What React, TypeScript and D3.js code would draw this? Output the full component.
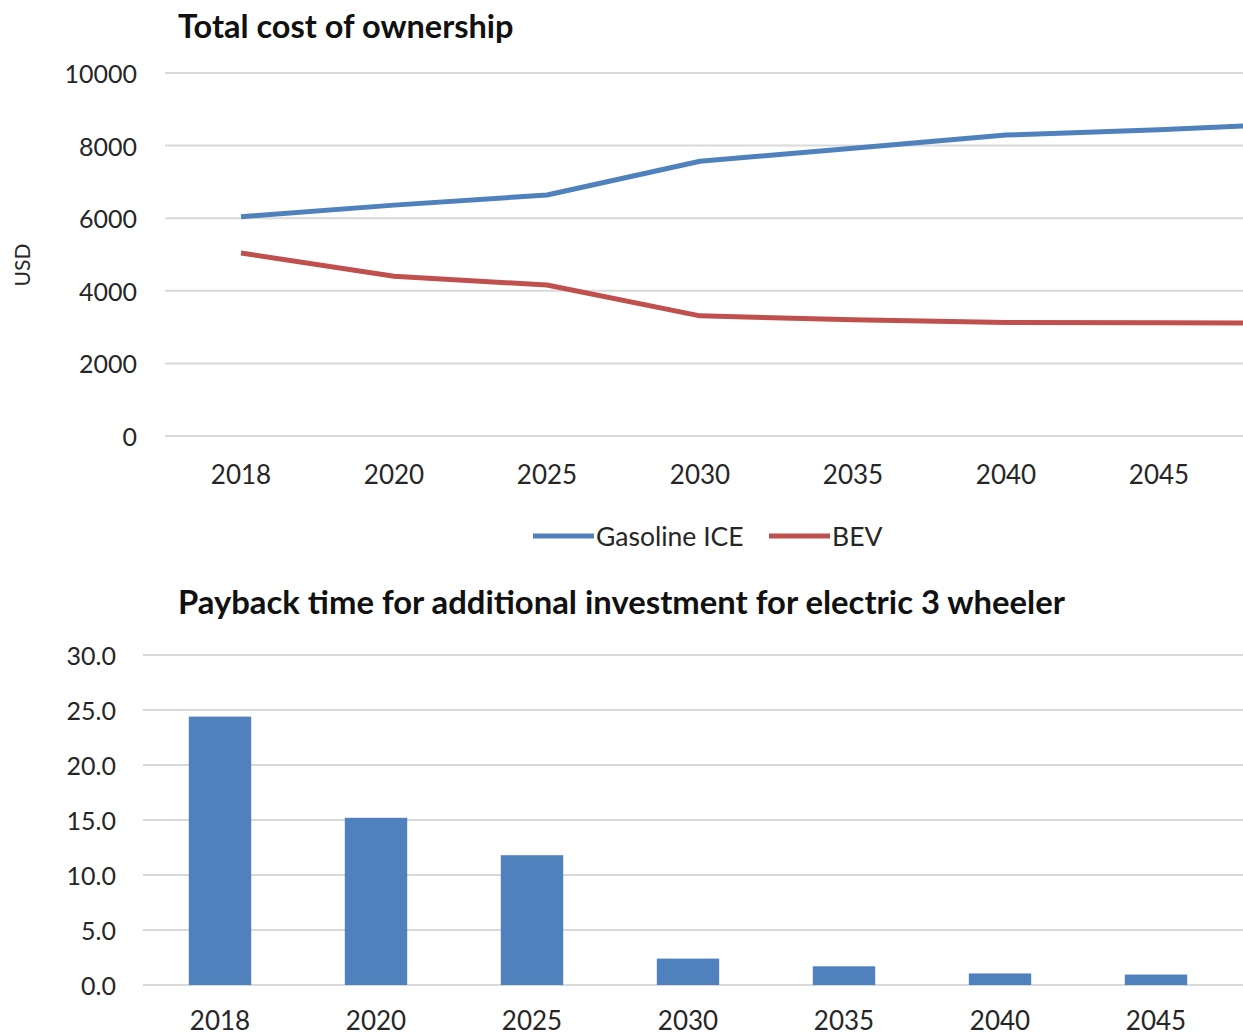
import React from "react";
import * as d3 from "d3";

// Total cost of ownership (USD)
const tcoYears = ["2018", "2020", "2025", "2030", "2035", "2040", "2045", "2050"];
const gasolineIce = [6040, 6360, 6640, 7570, 7930, 8290, 8440, 8620];
const bev = [5040, 4400, 4160, 3310, 3200, 3130, 3120, 3110];
const tcoTicks = [0, 2000, 4000, 6000, 8000, 10000];

// Payback time (years)
const paybackYears = ["2018", "2020", "2025", "2030", "2035", "2040", "2045"];
const paybackValues = [24.4, 15.2, 11.8, 2.4, 1.7, 1.05, 0.95];
const paybackTicks = [0, 5, 10, 15, 20, 25, 30];

const W = 1243;
const H = 1036;
const FONT = "Lato, 'Open Sans', sans-serif";
const BLUE = "#4f81bd";
const RED = "#c0504d";
const GRID = "#d9d9d9";
const TEXT = "#262626";

export default function App() {
  // --- top line chart ---
  const xTop = d3
    .scaleBand<string>()
    .domain(tcoYears)
    .range([164.5, 164.5 + 153 * tcoYears.length])
    .padding(0);
  const cx = (d: string) => (xTop(d) as number) + xTop.bandwidth() / 2;
  const yTop = d3.scaleLinear().domain([0, 10000]).range([436, 73]);
  const line = d3
    .line<number>()
    .x((_, i) => cx(tcoYears[i]))
    .y((v) => yTop(v));
  // the plot runs past the right edge; only label categories inside the frame
  const visibleTopYears = tcoYears.filter((y) => cx(y) + 30 < W);

  // --- bottom bar chart ---
  const xBot = d3
    .scaleBand<string>()
    .domain(paybackYears)
    .range([142, 142 + 156 * paybackYears.length])
    .paddingInner(0.6)
    .paddingOuter(0.3);
  const yBot = d3.scaleLinear().domain([0, 30]).range([985, 655]);

  const legend = [
    { label: "Gasoline ICE", color: BLUE, x: 533 },
    { label: "BEV", color: RED, x: 769 },
  ];

  return (
    <svg
      width={W}
      height={H}
      style={{ position: "absolute", left: 0, top: 0, background: "#fff" }}
      fontFamily={FONT}
    >
      <rect x={0} y={0} width={W} height={H} fill="#fff" />

      {/* Total cost of ownership */}
      <text x={178} y={38} fontSize={32.5} fontWeight={700} fill="#111">
        Total cost of ownership
      </text>
      {tcoTicks.map((t) => (
        <g key={"tg" + t}>
          <line x1={165} x2={W} y1={yTop(t)} y2={yTop(t)} stroke={GRID} strokeWidth={2} />
          <text
            x={137}
            y={yTop(t)}
            textAnchor="end"
            dominantBaseline="central"
            fontSize={25}
            fill={TEXT}
          >
            {t}
          </text>
        </g>
      ))}
      <text
        transform={`translate(30,265) rotate(-90)`}
        textAnchor="middle"
        fontSize={21}
        fill={TEXT}
      >
        USD
      </text>
      {visibleTopYears.map((y) => (
        <text key={"tx" + y} x={cx(y)} y={484} textAnchor="middle" fontSize={26} fill={TEXT}>
          {y}
        </text>
      ))}
      <path d={line(gasolineIce) || ""} fill="none" stroke={BLUE} strokeWidth={5} strokeLinejoin="round" />
      <path d={line(bev) || ""} fill="none" stroke={RED} strokeWidth={5} strokeLinejoin="round" />

      {legend.map((l) => (
        <g key={l.label}>
          <line x1={l.x} x2={l.x + 61} y1={536} y2={536} stroke={l.color} strokeWidth={5} />
          <text x={l.x + 63} y={536} dominantBaseline="central" fontSize={26.5} fill={TEXT}>
            {l.label}
          </text>
        </g>
      ))}

      {/* Payback time */}
      <text x={178} y={614} fontSize={32.8} fontWeight={700} fill="#111">
        Payback time for additional investment for electric 3 wheeler
      </text>
      {paybackTicks.map((t) => (
        <g key={"bg" + t}>
          <line x1={143} x2={W} y1={yBot(t)} y2={yBot(t)} stroke={GRID} strokeWidth={2} />
          <text
            x={116}
            y={yBot(t)}
            textAnchor="end"
            dominantBaseline="central"
            fontSize={25}
            fill={TEXT}
          >
            {t.toFixed(1)}
          </text>
        </g>
      ))}
      {paybackYears.map((y, i) => (
        <g key={"b" + y}>
          <rect
            x={xBot(y) as number}
            y={yBot(paybackValues[i])}
            width={xBot.bandwidth()}
            height={yBot(0) - yBot(paybackValues[i])}
            fill={BLUE}
          />
          <text
            x={(xBot(y) as number) + xBot.bandwidth() / 2}
            y={1030}
            textAnchor="middle"
            fontSize={26}
            fill={TEXT}
          >
            {y}
          </text>
        </g>
      ))}
    </svg>
  );
}
